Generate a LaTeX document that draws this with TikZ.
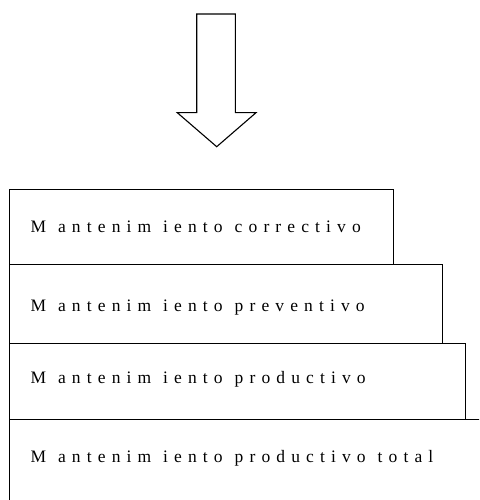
\documentclass[tikz,border=0pt]{standalone}
\usepackage{fontspec}
\setmainfont{Liberation Serif}
\newfontfamily\stepfont[LetterSpace=35]{Liberation Serif}
% gap between the spaced-out words
\newcommand\wgap{\hspace{12pt}}
\begin{document}
\begin{tikzpicture}[x=1pt,y=-1pt,
  line width=1.1pt,
  level/.style={draw, rectangle, anchor=north west, inner sep=0pt, line width=1.1pt},
  levtext/.style={anchor=base west, inner sep=0pt, font=\stepfont\fontsize{17.5}{20}\selectfont}]
\useasboundingbox (0,0) rectangle (479,500);
\clip (0,0) rectangle (479,500);

% hollow arrow pointing down
\draw[line join=miter] (196.7,14) -- (235.3,14) -- (235.3,112.7) -- (256,112.7)
  -- (216.7,146.7) -- (177.3,112.7) -- (196.7,112.7) -- cycle;

% stacked levels, each wider than the one above
\node[level, minimum width=384pt, minimum height=75.3pt] (b1) at (9.3,189) {};
\node[level, minimum width=432.4pt, minimum height=78.4pt] (b2) at (9.3,264.3) {};
\node[level, minimum width=456pt, minimum height=76.6pt] (b3) at (9.3,342.7) {};
\node[level, minimum width=490pt, minimum height=100pt] (b4) at (9.3,419.3) {};

\node[levtext] (t1) at (30,232.3) {M\wgap antenim\wgap iento\wgap correctivo};
\node[levtext] (t2) at (30,311.7) {M\wgap antenim\wgap iento\wgap preventivo};
\node[levtext] (t3) at (30,383.3) {M\wgap antenim\wgap iento\wgap productivo};
\node[levtext] (t4) at (30,462.7) {M\wgap antenim\wgap iento\wgap productivo\wgap total};
\end{tikzpicture}
\end{document}
